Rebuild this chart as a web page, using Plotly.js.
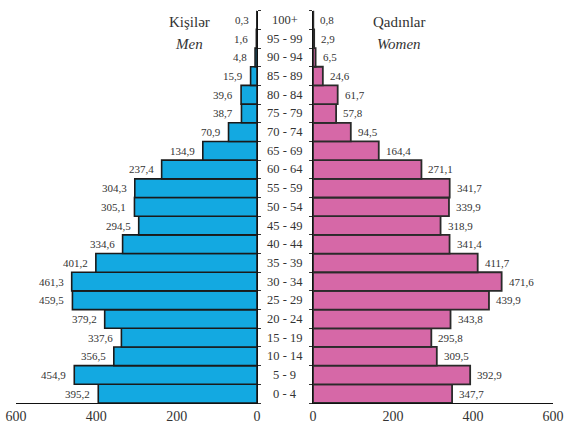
<!DOCTYPE html>
<html>
<head>
<meta charset="utf-8">
<script src="https://cdn.plot.ly/plotly-3.0.1.min.js"></script>
<style>
  html, body { margin: 0; padding: 0; background: #fff; }
  #chart { width: 566px; height: 423px; }
</style>
</head>
<body>
<div id="chart"></div>
<script>
const ageGroups = ["0 - 4","5 - 9","10 - 14","15 - 19","20 - 24","25 - 29","30 - 34","35 - 39","40 - 44","45 - 49","50 - 54","55 - 59","60 - 64","65 - 69","70 - 74","75 - 79","80 - 84","85 - 89","90 - 94","95 - 99","100+"];
const men   = [395.2,454.9,356.5,337.6,379.2,459.5,461.3,401.2,334.6,294.5,305.1,304.3,237.4,134.9,70.9,38.7,39.6,15.9,4.8,1.6,0.3];
const women = [347.7,392.9,309.5,295.8,343.8,439.9,471.6,411.7,341.4,318.9,339.9,341.7,271.1,164.4,94.5,57.8,61.7,24.6,6.5,2.9,0.8];
const xTickVals = [0,200,400,600];
const xTickText = ["0","200","400","600"];

const serif = "Liberation Serif, Times New Roman, serif";
const fmt = v => v.toFixed(1).replace('.', ',');

const traces = [
  {
    type: 'bar', orientation: 'h', x: men, y: ageGroups,
    xaxis: 'x', yaxis: 'y',
    marker: { color: '#13A9E1', line: { color: '#1a1a1a', width: 1.6 } },
    hoverinfo: 'none'
  },
  {
    type: 'bar', orientation: 'h', x: women, y: ageGroups,
    xaxis: 'x2', yaxis: 'y2',
    marker: { color: '#D668A7', line: { color: '#2a2a2a', width: 1.8 } },
    hoverinfo: 'none'
  }
];

const annotations = [];
ageGroups.forEach((g, i) => {
  annotations.push({ xref: 'paper', yref: 'y', x: 0.5035, y: g, text: g, showarrow: false,
    xanchor: 'center', yanchor: 'middle', font: { family: serif, size: 12.5, color: '#333' } });
  annotations.push({ xref: 'x', yref: 'y', x: men[i], y: g, text: fmt(men[i]), showarrow: false,
    xanchor: 'right', yanchor: 'middle', xshift: -6, font: { family: serif, size: 11, color: '#333' } });
  annotations.push({ xref: 'x2', yref: 'y2', x: women[i], y: g, text: fmt(women[i]), showarrow: false,
    xanchor: 'left', yanchor: 'middle', xshift: 5, font: { family: serif, size: 11, color: '#333' } });
});
annotations.push(
  { xref: 'paper', yref: 'paper', x: 189/566, y: 1 - 22/423, text: 'Kişilər', showarrow: false,
    xanchor: 'center', yanchor: 'middle', font: { family: serif, size: 15, color: '#333' } },
  { xref: 'paper', yref: 'paper', x: 189/566, y: 1 - 44/423, text: '<i>Men</i>', showarrow: false,
    xanchor: 'center', yanchor: 'middle', font: { family: serif, size: 15, color: '#333' } },
  { xref: 'paper', yref: 'paper', x: 399/566, y: 1 - 22/423, text: 'Qadınlar', showarrow: false,
    xanchor: 'center', yanchor: 'middle', font: { family: serif, size: 15, color: '#333' } },
  { xref: 'paper', yref: 'paper', x: 399/566, y: 1 - 44/423, text: '<i>Women</i>', showarrow: false,
    xanchor: 'center', yanchor: 'middle', font: { family: serif, size: 15, color: '#333' } }
);

const yDomain = [1 - 403/423, 1 - 10.7/423];
const xAxisCommon = {
  tickvals: xTickVals, ticktext: xTickText, showgrid: false, zeroline: false,
  showline: true, linecolor: '#111', linewidth: 1, ticks: '',
  tickfont: { family: serif, size: 14, color: '#333' }, fixedrange: true
};
const yAxisCommon = {
  type: 'category', range: [-0.5, ageGroups.length - 0.5], domain: yDomain,
  showgrid: false, zeroline: false, showticklabels: false,
  showline: true, linecolor: '#111', linewidth: 1.2,
  ticks: 'outside', tickson: 'boundaries', ticklen: 3, tickcolor: '#333', tickwidth: 1,
  fixedrange: true
};

const layout = {
  width: 566, height: 423,
  margin: { l: 0, r: 0, t: 0, b: 0 },
  paper_bgcolor: '#fff', plot_bgcolor: 'rgba(0,0,0,0)',
  showlegend: false, bargap: 0,
  xaxis: Object.assign({}, xAxisCommon, { domain: [16/566, 257/566], range: [600, 0], anchor: 'y' }),
  xaxis2: Object.assign({}, xAxisCommon, { domain: [313/566, 553/566], range: [0, 600], anchor: 'y2' }),
  yaxis: Object.assign({}, yAxisCommon, { anchor: 'x', side: 'right' }),
  yaxis2: Object.assign({}, yAxisCommon, { anchor: 'x2', side: 'left' }),
  annotations: annotations
};

Plotly.newPlot('chart', traces, layout, { displayModeBar: false, staticPlot: true });
</script>
</body>
</html>
